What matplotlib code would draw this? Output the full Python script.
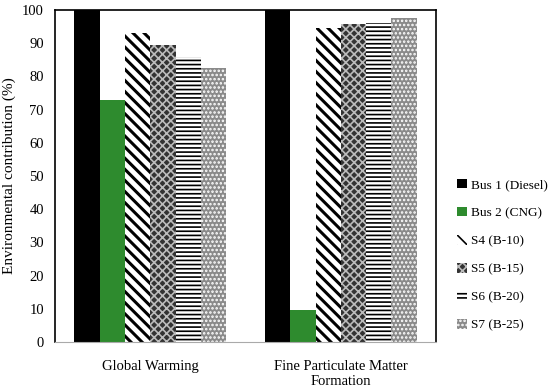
import matplotlib.pyplot as plt
import numpy as np

plt.rcParams['font.family'] = ['Liberation Serif', 'DejaVu Serif']
plt.rcParams['hatch.linewidth'] = 1.2

categories = ["Global Warming", "Fine Particulate Matter\nFormation"]
series = ["Bus 1 (Diesel)", "Bus 2 (CNG)", "S4 (B-10)", "S5 (B-15)", "S6 (B-20)", "S7 (B-25)"]
bus1 = [100, 100]
bus2 = [72.8, 9.6]
s4 = [93.0, 94.6]
s5 = [89.5, 95.7]
s6 = [85.8, 96.0]
s7 = [82.5, 97.7]

values = [bus1, bus2, s4, s5, s6, s7]
faces = ["black", "#2e8b2e", "white", "#333333", "white", "#8a8a8a"]
hatches = [None, None, "\\\\\\", "xxxx", "----", "...."]
edges = ["black", "#2e8b2e", "black", "#bbbbbb", "black", "white"]
hatch_lw = [1, 1, 2.2, 1.2, 1.2, 1.2]

fig = plt.figure(figsize=(5.5, 3.87), dpi=100)
ax = fig.add_axes([0.1, 0.116, 0.693, 0.858])

x = np.arange(len(categories))
width = 0.1326
for i, (vals, name) in enumerate(zip(values, series)):
    pos = x + (i - 2.5) * width
    bars = ax.bar(pos, vals, width, color=faces[i], hatch=hatches[i],
                  edgecolor=edges[i], linewidth=0, label=name)
    for b in bars:
        if hasattr(b, "set_hatch_linewidth"):
            b.set_hatch_linewidth(hatch_lw[i])

ax.set_xlim(-0.5, 1.5)
ax.set_ylim(0, 100)
ax.set_yticks(range(0, 101, 10))
ax.set_xticks(x)
ax.set_xticklabels(categories, fontsize=10.5)
ax.tick_params(axis="x", length=0, labelsize=10.5, pad=13)
ax.tick_params(axis="y", length=0, labelsize=10.5, pad=8)
ax.set_ylabel("Environmental contribution (%)", fontsize=11)
for s in ["top", "right", "left"]:
    ax.spines[s].set_color("black")
    ax.spines[s].set_linewidth(1.2)
ax.spines["bottom"].set_color("#aaaaaa")

fig.legend(loc="center left", bbox_to_anchor=(0.81, 0.34), frameon=False,
           fontsize=9.5, handlelength=0.7, handleheight=0.7,
           handletextpad=0.3, labelspacing=1.2)

plt.savefig("out.png", dpi=100)
